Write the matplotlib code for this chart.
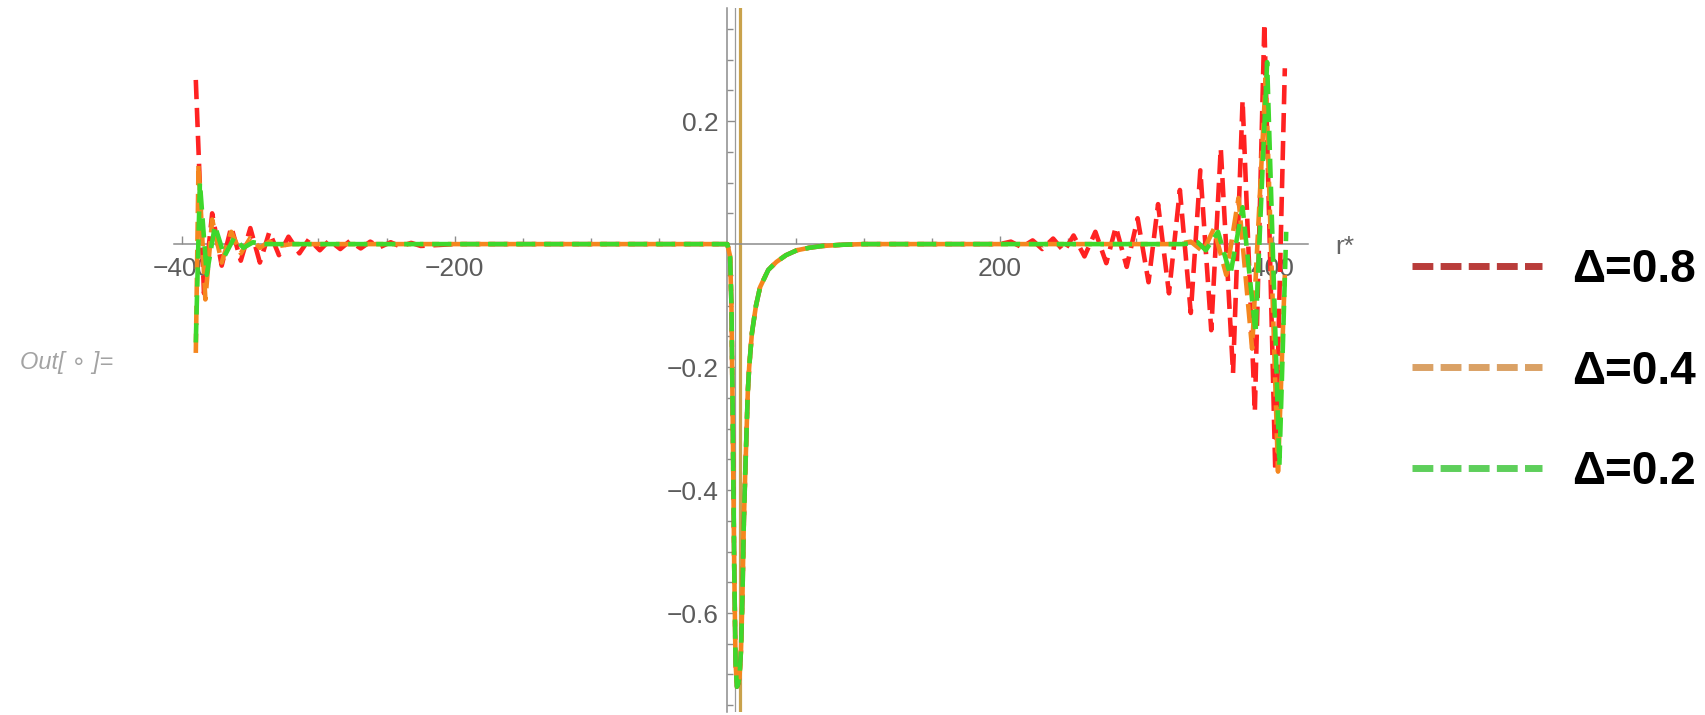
import matplotlib
matplotlib.use("Agg")
import matplotlib.pyplot as plt
from matplotlib.lines import Line2D

plt.rcParams['font.family'] = ['Liberation Sans', 'DejaVu Sans']

# ---- data -------------------------------------------------------------
# well just outside the origin (common to all three curves)
dip_r = [0, 2, 3, 4, 5, 6, 7, 8, 9, 10, 11, 12, 13, 14, 15, 16, 18, 21, 24,
         30, 36, 43, 51, 60, 70, 85, 100, 200]
dip_v = [0, -0.02, -0.10, -0.30, -0.52, -0.68, -0.72, -0.715, -0.70, -0.66,
         -0.58, -0.46, -0.38, -0.31, -0.24, -0.20, -0.145, -0.10, -0.07,
         -0.042, -0.029, -0.018, -0.010, -0.006, -0.003, -0.001, 0, 0]

# Delta = 0.8
red_left_r = [-390, -384, -378, -371, -364, -357, -350, -343, -336, -329,
              -322, -314, -307, -299, -292, -284, -277, -269, -262, -255,
              -247, -240, -232, -225, -200]
red_left_v = [0.267, -0.08, 0.05, -0.035, 0.028, -0.027, 0.026, -0.03, 0.02,
              -0.018, 0.012, -0.015, 0.008, -0.010, 0.006, -0.008, 0.005,
              -0.007, 0.004, -0.005, 0.003, -0.004, 0.002, -0.003, 0]
red_right_r = [208, 216, 224, 231, 239, 247, 254, 262, 270, 278, 285, 293,
               301, 309, 316, 324, 332, 340, 347, 355, 362, 371, 378, 387,
               394, 402, 409]
red_right_v = [0.004, -0.005, 0.006, -0.008, 0.009, -0.012, 0.014, -0.02,
               0.02, -0.031, 0.028, -0.037, 0.042, -0.062, 0.065, -0.08,
               0.088, -0.112, 0.12, -0.14, 0.156, -0.21, 0.234, -0.273,
               0.359, -0.37, 0.286]

# Delta = 0.4
orange_left_r = [-390, -388, -383, -378, -371, -364, -357, -350, -343, -336,
                 -329, -320]
orange_left_v = [-0.177, 0.13, -0.09, 0.04, -0.03, 0.02, -0.015, 0.01,
                 -0.006, 0.004, -0.003, 0]
orange_right_r = [330, 340, 349, 357, 366, 375, 385, 395, 404, 409]
orange_right_v = [0, 0.004, -0.012, 0.025, -0.05, 0.075, -0.17, 0.27,
                  -0.37, -0.05]

# Delta = 0.2
green_left_r = [-390, -387, -382, -376, -369, -362, -355, -348, -340]
green_left_v = [-0.16, 0.10, -0.05, 0.03, -0.02, 0.01, -0.006, 0.003, 0]
green_right_r = [335, 345, 351, 360, 369, 378, 387.5, 396, 405, 410]
green_right_v = [0, 0.003, -0.01, 0.02, -0.05, 0.06, -0.145, 0.296, -0.36,
                 0.02]

labels = ["Δ=0.8", "Δ=0.4", "Δ=0.2"]
line_colors = ["#ff2222", "#f5861e", "#3ed82c"]
key_colors = ["#b93c3a", "#daa165", "#5ecf5b"]

x_major = [-400, -200, 200, 400]
x_minor = [-350, -300, -250, -150, -100, -50, 50, 100, 150, 250, 300, 350]
y_major = [-0.6, -0.4, -0.2, 0.2]
y_minor = [-0.75, -0.7, -0.65, -0.55, -0.5, -0.45, -0.35, -0.3, -0.25,
           -0.15, -0.1, -0.05, 0.05, 0.1, 0.15, 0.25, 0.3, 0.35]

series = [
    (red_left_r + dip_r + red_right_r, red_left_v + dip_v + red_right_v),
    (orange_left_r + dip_r + orange_right_r,
     orange_left_v + dip_v + orange_right_v),
    (green_left_r + dip_r + green_right_r,
     green_left_v + dip_v + green_right_v),
]

# ---- figure -----------------------------------------------------------
W, H = 1705, 715
fig = plt.figure(figsize=(W / 100, H / 100), dpi=100)
ax = fig.add_axes([174 / W, 3 / H, 1134 / W, 704 / H])
ax.set_xlim(-406, 426)
ax.set_ylim(-0.761, 0.384)

axis_grey = "#8c8c8c"
for side in ("top", "right"):
    ax.spines[side].set_visible(False)
ax.spines["left"].set_position(("data", 0))
ax.spines["bottom"].set_position(("data", 0))
for side in ("left", "bottom"):
    ax.spines[side].set_color(axis_grey)
    ax.spines[side].set_linewidth(1.1)

ax.set_xticks(x_major)
ax.set_xticks(x_minor, minor=True)
ax.set_yticks(y_major)
ax.set_yticks(y_minor, minor=True)
ax.set_xticklabels([f"{v:d}".replace("-", "\u2212") for v in x_major])
ax.set_yticklabels([f"{v:.1f}".replace("-", "\u2212") for v in y_major])
ax.tick_params(axis="both", which="both", direction="in", color=axis_grey,
               width=1.0, labelsize=19, labelcolor="#5c5c5c")
ax.tick_params(axis="both", which="major", length=6)
ax.tick_params(axis="both", which="minor", length=4.5)
ax.tick_params(axis="x", pad=9)
ax.tick_params(axis="y", pad=6)

# second thin rule beside the vertical axis and the golden marker line
ax.axvline(5.5, color="#9a9a9a", lw=0.9, zorder=2.4)
ax.axvline(9, color="#c9a24c", lw=2.3, zorder=2.45)

for (r, v), col in zip(series, line_colors):
    ax.plot(r, v, color=col, lw=3.3, dashes=(4.2, 1.9), zorder=3,
            solid_joinstyle="round", dash_capstyle="butt")

# ---- annotations ------------------------------------------------------
fig.text(1335 / W, 1 - 247 / H, "r*", fontsize=19, color="#666666",
         va="center", ha="left")
fig.text(20 / W, 1 - 363 / H, "Out[ \u2218 ]=", fontsize=17, style="italic",
         color="#a3a3a3", va="center", ha="left")

rows = [266, 367, 468]
for lab, col, row in zip(labels, key_colors, rows):
    yf = 1 - row / H
    fig.add_artist(Line2D([1412 / W, 1542 / W], [yf, yf], color=col, lw=5,
                          dashes=(3.0, 1.05), dash_capstyle="butt",
                          transform=fig.transFigure))
    fig.text(1572 / W, 1 - (row + 16.5) / H, lab, fontsize=33,
             fontweight="bold", color="black", va="baseline", ha="left")

fig.savefig("out.png", dpi=100)
